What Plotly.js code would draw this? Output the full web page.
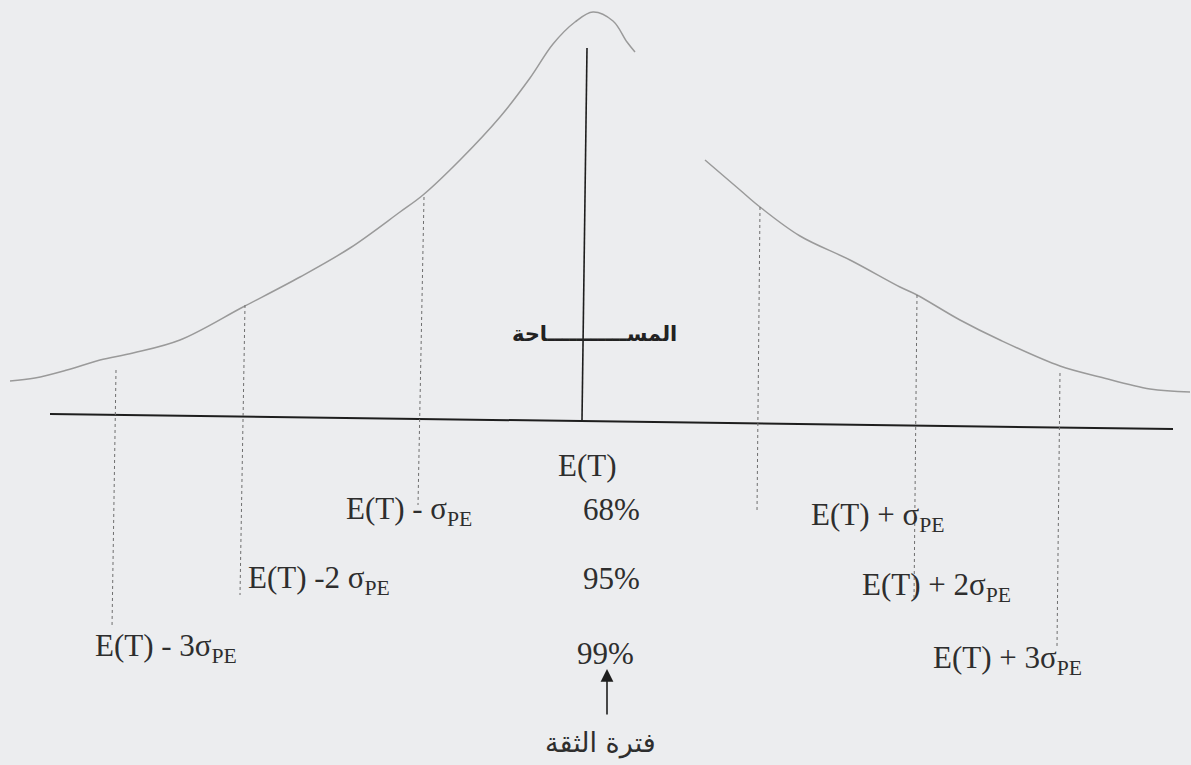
<!DOCTYPE html>
<html>
<head>
<meta charset="utf-8">
<script src="https://cdn.plot.ly/plotly-3.0.1.min.js"></script>
<style>
  html, body { margin: 0; padding: 0; background: #ecedef; }
  #chart { width: 1191px; height: 765px; }
</style>
</head>
<body>
<div id="chart"></div>
<script>
// Bell curve sketch (left branch, then right branch after a break)
const curveLeftX  = [10, 35, 67, 100, 133, 180, 243, 300, 350, 400, 423, 460, 500, 530, 553, 575, 593, 613, 627, 635];
const curveLeftY  = [381, 378, 370, 360, 353, 340, 307, 277, 248, 212, 195, 160, 117, 78, 44, 22, 12, 21, 42, 52];
const curveRightX = [705, 740, 760, 800, 850, 900, 917, 960, 1000, 1060, 1100, 1150, 1190];
const curveRightY = [160, 190, 207, 236, 260, 287, 295, 320, 340, 366, 377, 389, 392];

// Baseline and mean line
const baseX = [50, 1173];
const baseY = [414, 429];
const meanX = [587, 582];
const meanY = [48, 420];

// Dotted boundary lines: top / bottom x and y
const boundTopX    = [424, 245, 116, 760, 917, 1060];
const boundTopY    = [197, 305, 370, 207, 295, 373];
const boundBottomX = [418, 240, 112, 757, 914, 1057];
const boundBottomY = [505, 595, 628, 512, 600, 646];

// Labels
const boundLabels = ["E(T) - σ<sub>PE</sub>", "E(T) -2 σ<sub>PE</sub>", "E(T) - 3σ<sub>PE</sub>",
                     "E(T) + σ<sub>PE</sub>", "E(T) + 2σ<sub>PE</sub>", "E(T) + 3σ<sub>PE</sub>"];
const boundLabelX = [409, 319, 166, 878, 936, 1007];
const boundLabelY = [511, 580, 648, 517, 587, 660];

const pctLabels = ["68%", "95%", "99%"];
const pctX = [611, 611, 605];
const pctY = [509, 578, 653];

const meanLabel = "E(T)";
const areaLabel = "المســـــــــــاحة";
const intervalLabel = "فترة الثقة";

const serifFamily = 'Liberation Serif, Times New Roman, serif';

const traces = [];
traces.push({x: curveLeftX, y: curveLeftY, mode: 'lines', line: {color: '#9a9a9a', width: 1.5, shape: 'spline'}, hoverinfo: 'skip'});
traces.push({x: curveRightX, y: curveRightY, mode: 'lines', line: {color: '#9a9a9a', width: 1.5, shape: 'spline'}, hoverinfo: 'skip'});
traces.push({x: baseX, y: baseY, mode: 'lines', line: {color: '#1e1e1e', width: 2}, hoverinfo: 'skip'});
traces.push({x: meanX, y: meanY, mode: 'lines', line: {color: '#1e1e1e', width: 1.6}, hoverinfo: 'skip'});
for (let i = 0; i < boundTopX.length; i++) {
  traces.push({x: [boundTopX[i], boundBottomX[i]], y: [boundTopY[i], boundBottomY[i]], mode: 'lines',
               line: {color: '#6e6e6e', width: 1, dash: 'dot'}, hoverinfo: 'skip'});
}

const serif = {family: serifFamily, size: 31, color: '#2e2e2e'};
const annotations = [];
for (let i = 0; i < boundLabels.length; i++) {
  annotations.push({x: boundLabelX[i], y: boundLabelY[i], xref: 'x', yref: 'y', text: boundLabels[i],
                    showarrow: false, font: serif, xanchor: 'center', yanchor: 'middle'});
}
for (let i = 0; i < pctLabels.length; i++) {
  annotations.push({x: pctX[i], y: pctY[i], xref: 'x', yref: 'y', text: pctLabels[i],
                    showarrow: false, font: serif, xanchor: 'center', yanchor: 'middle'});
}
annotations.push({x: 587, y: 465, xref: 'x', yref: 'y', text: meanLabel, showarrow: false, font: serif});
annotations.push({x: 594, y: 334, xref: 'x', yref: 'y', text: '<b>' + areaLabel + '</b>', showarrow: false,
                  font: {family: 'DejaVu Sans, sans-serif', size: 21, color: '#222'}});
// Arrow pointing up to the 99% level
annotations.push({x: 607, y: 669, ax: 607, ay: 716, xref: 'x', yref: 'y', axref: 'x', ayref: 'y', text: '',
                  showarrow: true, arrowhead: 2, arrowsize: 1.6, arrowwidth: 1.6, arrowcolor: '#1e1e1e'});
annotations.push({x: 600, y: 743, xref: 'x', yref: 'y', text: intervalLabel, showarrow: false,
                  font: {family: 'DejaVu Sans, sans-serif', size: 27, color: '#2e2e2e'}});

const layout = {
  width: 1191, height: 765,
  margin: {l: 0, r: 0, t: 0, b: 0},
  paper_bgcolor: '#ecedef', plot_bgcolor: '#ecedef',
  font: {family: serifFamily},
  showlegend: false,
  xaxis: {range: [0, 1191], visible: false, fixedrange: true},
  yaxis: {range: [765, 0], visible: false, fixedrange: true},
  annotations: annotations
};

Plotly.newPlot('chart', traces, layout, {staticPlot: true});
</script>
</body>
</html>
